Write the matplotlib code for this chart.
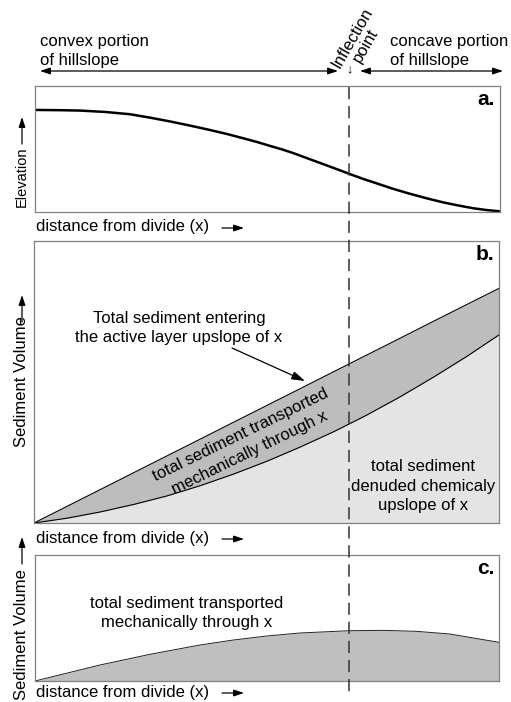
import matplotlib

matplotlib.use("Agg")

import matplotlib.pyplot as plt

plt.rcParams["font.family"] = ["Liberation Sans", "DejaVu Sans"]

W, H = 511, 702

# panel a: hillslope elevation profile (x = fraction of distance from divide)
elev_x = [0.0, 0.054, 0.097, 0.151, 0.204, 0.247, 0.290, 0.333, 0.376, 0.413,
          0.447, 0.477, 0.505, 0.531, 0.555, 0.591, 0.628, 0.673, 0.703, 0.735,
          0.770, 0.806, 0.843, 0.877, 0.910, 0.942, 0.970, 1.0]
elev_y = [0.810, 0.808, 0.805, 0.794, 0.776, 0.749, 0.719, 0.686, 0.651, 0.619,
          0.586, 0.556, 0.525, 0.497, 0.468, 0.419, 0.369, 0.307, 0.266, 0.227,
          0.184, 0.145, 0.108, 0.077, 0.052, 0.030, 0.016, 0.005]

# panel b: cumulative sediment volumes
sed_x = [0.0, 0.071, 0.142, 0.215, 0.286, 0.357, 0.430, 0.501, 0.572, 0.645,
         0.716, 0.787, 0.860, 0.931, 1.0]
entering = [0.0, 0.059, 0.118, 0.179, 0.238, 0.297, 0.358, 0.417, 0.476, 0.537,
            0.596, 0.655, 0.716, 0.775, 0.832]
denuded = [0.0, 0.017, 0.039, 0.066, 0.096, 0.132, 0.174, 0.219, 0.269, 0.324,
           0.383, 0.447, 0.518, 0.591, 0.667]

# panel c: mechanical transport through x
flux_x = [0.0, 0.14, 0.248, 0.356, 0.427, 0.499, 0.571, 0.676, 0.751, 0.823, 0.894, 1.0]
flux_y = [0.0, 0.127, 0.212, 0.286, 0.325, 0.357, 0.381, 0.399, 0.402, 0.394, 0.373, 0.307]

inflection_px = 349
frame_color = "#808080"
LS = 1.35


def panel(fig, left, top, width, height, tag):
    ax = fig.add_axes([left / W, 1 - (top + height) / H, width / W, height / H])
    ax.set_xlim(0, 1)
    ax.set_ylim(0, 1)
    ax.set_xticks([])
    ax.set_yticks([])
    for spine in ax.spines.values():
        spine.set_color(frame_color)
        spine.set_linewidth(0.9)
    ax.text(1 - 5 / width, 1 - 4 / height, tag, transform=ax.transAxes,
            ha="right", va="top", fontsize=15, fontweight="bold")
    return ax


fig = plt.figure(figsize=(W / 100, H / 100), dpi=100)

ax_a = panel(fig, 35, 86, 465, 126, "a.")
ax_a.plot(elev_x, elev_y, color="black", lw=1.8, solid_capstyle="butt")

ax_b = panel(fig, 34, 241, 465, 282, "b.")
ax_b.fill_between(sed_x, 0, denuded, color="#e4e4e4", lw=0)
ax_b.fill_between(sed_x, denuded, entering, color="#bdbdbd", lw=0)
ax_b.plot(sed_x, entering, color="black", lw=0.8)
ax_b.plot(sed_x, denuded, color="black", lw=0.8)

ax_c = panel(fig, 35, 555, 464, 126, "c.")
ax_c.fill_between(flux_x, 0, flux_y, color="#bfbfbf", lw=0)
ax_c.plot(flux_x, flux_y, color="#222222", lw=0.7)

# overlay in pixel units for annotations spanning the panels
ov = fig.add_axes([0, 0, 1, 1])
ov.set_xlim(0, W)
ov.set_ylim(H, 0)
ov.axis("off")
ov.patch.set_alpha(0)

ov.plot([inflection_px, inflection_px], [87, 695], color="#333333", lw=1.1,
        linestyle=(0, (8, 4.5)))

arrow_kw = dict(color="black", lw=0.9, shrinkA=0, shrinkB=0)
ov.annotate("", xy=(40, 71), xytext=(338, 71),
            arrowprops=dict(arrowstyle="<|-|>,head_length=0.6,head_width=0.2", **arrow_kw))
ov.annotate("", xy=(360, 71), xytext=(503, 71),
            arrowprops=dict(arrowstyle="<|-|>,head_length=0.6,head_width=0.2", **arrow_kw))

ov.text(40, 51, "convex portion\nof hillslope", ha="left", va="center", fontsize=12,
        linespacing=LS)
ov.text(390, 51, "concave portion\nof hillslope", ha="left", va="center", fontsize=12,
        linespacing=LS)
ov.text(359, 42, "Inflection\npoint", ha="center", va="center", fontsize=12,
        rotation=60, rotation_mode="anchor", linespacing=1.0)
ov.text(inflection_px, 69, "↓", ha="center", va="center", fontsize=9)

# axis captions
for y in (227, 538, 692):
    ov.text(36, y, "distance from divide (x)", ha="left", va="center", fontsize=12)
    ov.annotate("", xy=(244, y + 1), xytext=(222, y + 1),
                arrowprops=dict(arrowstyle="-|>,head_length=0.6,head_width=0.2", **arrow_kw))

ylabels = [("Elevation", 207, 144, 117, 10.5),
           ("Sediment Volume", 447, 322, 295, 12),
           ("Sediment Volume", 700, 564, 537, 12)]
for label, y0, a0, a1, size in ylabels:
    ov.text(22, y0, label, rotation=90, ha="center", va="bottom", fontsize=size)
    ov.annotate("", xy=(22, a1), xytext=(22, a0),
                arrowprops=dict(arrowstyle="-|>,head_length=0.6,head_width=0.2", **arrow_kw))

# panel b notes
ov.text(179, 328, "Total sediment entering\nthe active layer upslope of x",
        ha="center", va="center", fontsize=12, linespacing=LS)
ov.annotate("", xy=(305, 381), xytext=(232, 348),
            arrowprops=dict(arrowstyle="-|>,head_length=0.8,head_width=0.25", **arrow_kw))
ov.text(245, 444, "total sediment transported\nmechanically through x",
        ha="center", va="center", fontsize=12, rotation=26, rotation_mode="anchor",
        linespacing=LS)
ov.text(423, 486, "total sediment\ndenuded chemicaly\nupslope of x",
        ha="center", va="center", fontsize=12, linespacing=LS)

# panel c note
ov.text(187, 613, "total sediment transported\nmechanically through x",
        ha="center", va="center", fontsize=12, linespacing=LS)

fig.savefig("out.png", dpi=100)
